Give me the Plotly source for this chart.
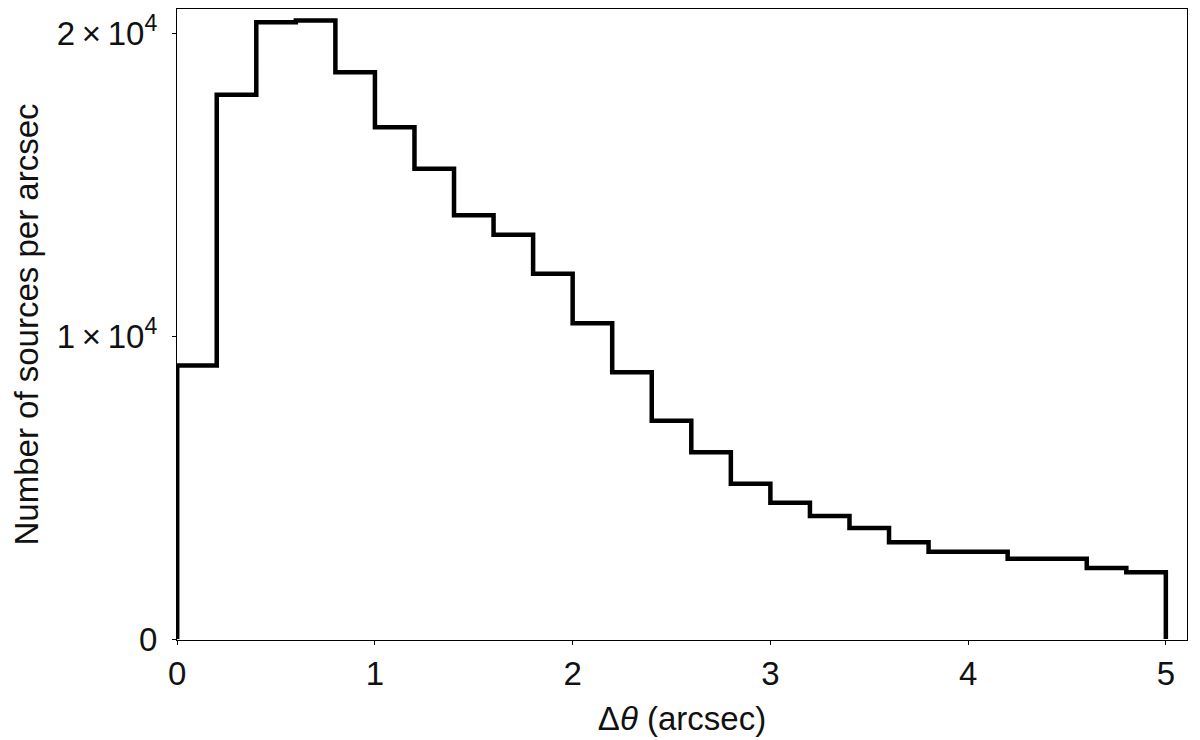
import plotly.graph_objects as go

bin_edges = [0.0, 0.2, 0.4, 0.6, 0.8, 1.0, 1.2, 1.4, 1.6, 1.8, 2.0, 2.2, 2.4,
             2.6, 2.8, 3.0, 3.2, 3.4, 3.6, 3.8, 4.0, 4.2, 4.4, 4.6, 4.8, 5.0]
counts = [9030, 17970, 20360, 20420, 18710, 16900, 15530, 13990, 13350, 12060,
          10430, 8810, 7210, 6170, 5130, 4500, 4060, 3670, 3200, 2880, 2880,
          2650, 2650, 2350, 2210]

x_ticks = [0, 1, 2, 3, 4, 5]
x_ticklabels = ["0", "1", "2", "3", "4", "5"]
y_ticks = [0, 10000, 20000]
y_ticklabels = ["0", "1\u2009\u00d7\u200910<sup>4</sup>", "2\u2009\u00d7\u200910<sup>4</sup>"]

# step outline (histtype='step')
xs = [bin_edges[0]] + list(bin_edges) + [bin_edges[-1]]
ys = [0] + list(counts) + [counts[-1], 0]

fig = go.Figure()
fig.add_trace(go.Scatter(x=xs, y=ys, mode="lines", line_shape="hv",
                         line=dict(color="black", width=4.5),
                         showlegend=False, hoverinfo="skip"))

font_family = "Liberation Sans"
fs = 33
# page body has an 8px default margin; size figure so the plot lands where the reference has it
fig.update_layout(
    width=1192, height=732,
    margin=dict(l=169, r=13, t=1, b=100),
    paper_bgcolor="white", plot_bgcolor="white",
    font=dict(family=font_family, size=fs, color="#111111"),
    xaxis=dict(range=[-0.001, 5.107], tickvals=x_ticks, ticktext=x_ticklabels,
               showgrid=False, zeroline=False, showline=True, mirror=True,
               linecolor="black", linewidth=1.3, ticks="outside", ticklen=4,
               tickcolor="black", tickwidth=1.2, automargin=False,
               tickfont=dict(size=fs),
               title=dict(text="\u0394<i>\u03b8</i> (arcsec)", font=dict(size=fs), standoff=16)),
    yaxis=dict(range=[-30, 20800], tickvals=y_ticks, ticktext=y_ticklabels,
               showgrid=False, zeroline=False, showline=True, mirror=True,
               linecolor="black", linewidth=1.3, ticks="outside", ticklen=4,
               tickcolor="black", tickwidth=1.2, automargin=False,
               tickfont=dict(size=fs), ticklabelstandoff=8,
               title=dict(text="Number of sources per arcsec", font=dict(size=fs), standoff=18)),
)

fig.write_html("out.html")
